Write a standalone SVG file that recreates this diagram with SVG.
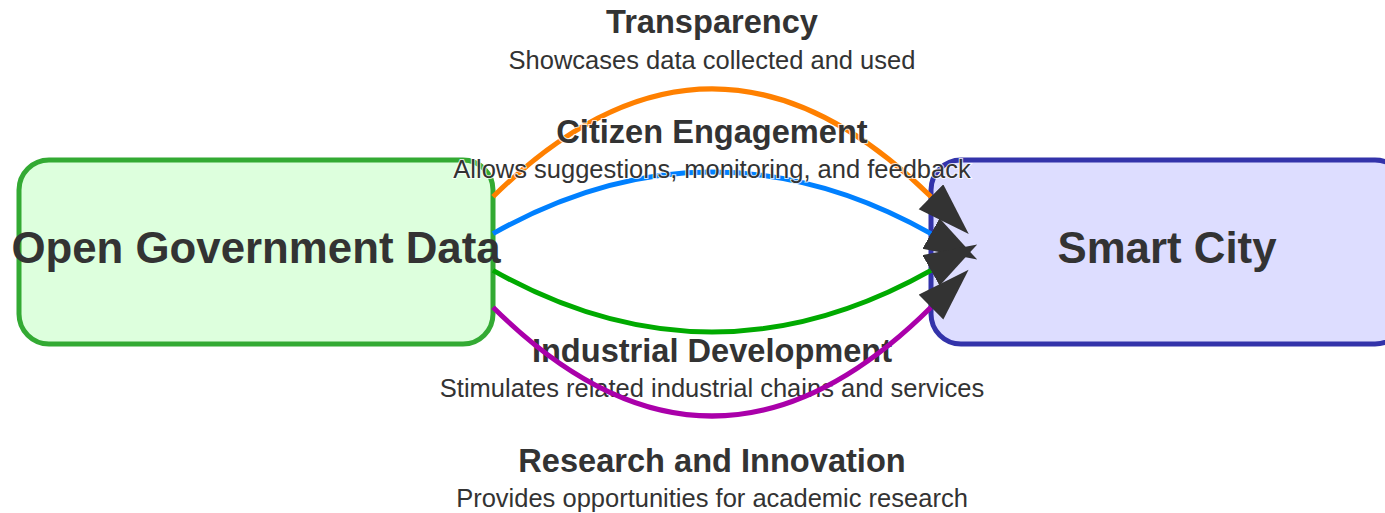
<svg xmlns="http://www.w3.org/2000/svg" width="1385" height="513" viewBox="0 0 1385 513">
<style>
.node-ogd{fill:#ddffdd;stroke:#33aa33;stroke-width:5}
.node-sc{fill:#ddddff;stroke:#3333aa;stroke-width:5}
.ntext{font-family:"Liberation Sans",Arial,sans-serif;font-weight:bold;font-size:43.8px;fill:#333;text-anchor:middle}
.link{fill:none;stroke-width:5;marker-end:url(#arrow)}
.title{font-family:"Liberation Sans",Arial,sans-serif;font-weight:bold;font-size:32.6px;fill:#333;text-anchor:middle;stroke:#fff;stroke-width:2;stroke-opacity:0.8;paint-order:stroke}
.sub{font-family:"Liberation Sans",Arial,sans-serif;font-size:25.5px;fill:#333;text-anchor:middle;stroke:#fff;stroke-width:2;stroke-opacity:0.8;paint-order:stroke}
</style>
<defs>
<marker id="arrow" markerUnits="userSpaceOnUse" markerWidth="54" markerHeight="36" refX="0" refY="17.5" orient="auto" viewBox="0 0 54 36">
<path d="M0,0 L53,17.5 L0,35 Z" fill="#333"/>
</marker>
</defs>
<g id="node-open-government-data">
<rect class="node-ogd" x="19" y="160" width="474" height="184" rx="30" ry="30"/>
<text class="ntext" x="256" y="263">Open Government Data</text>
</g>
<g id="node-smart-city">
<rect class="node-sc" x="931" y="160" width="474" height="184" rx="30" ry="30"/>
<text class="ntext" x="1167" y="263">Smart City</text>
</g>
<g id="connectors">
<path class="link" stroke="#ff8000" d="M493,196.8 Q712,-19 931,196.8"/>
<text class="title" x="712" y="33">Transparency</text>
<text class="sub" x="712" y="69">Showcases data collected and used</text>
<path class="link" stroke="#0080ff" d="M493,233.6 Q712,110.4 931,233.6"/>
<text class="title" x="712" y="142.7">Citizen Engagement</text>
<text class="sub" x="712" y="178.3">Allows suggestions, monitoring, and feedback</text>
<path class="link" stroke="#00aa00" d="M493,270.4 Q712,393.6 931,270.4"/>
<text class="title" x="712" y="361.7">Industrial Development</text>
<text class="sub" x="712" y="396.7">Stimulates related industrial chains and services</text>
<path class="link" stroke="#aa00aa" d="M493,307.2 Q712,524.8 931,307.2"/>
<text class="title" x="712" y="471.7">Research and Innovation</text>
<text class="sub" x="712" y="506.7">Provides opportunities for academic research</text>
</g>
</svg>
